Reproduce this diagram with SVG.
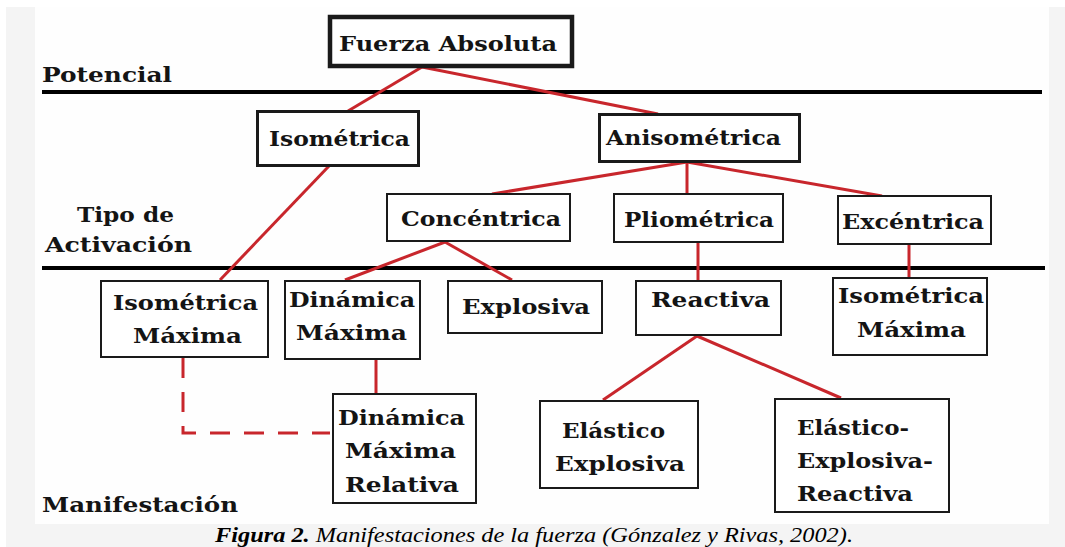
<svg xmlns="http://www.w3.org/2000/svg" width="1065" height="547" viewBox="0 0 1065 547">
<style>
.box{fill:#ffffff;stroke:#1a1a1a;stroke-width:2}
.thick{stroke-width:3}
.heavy{stroke-width:4.5}
.t{font-family:"DejaVu Serif","Liberation Serif",serif;font-weight:bold;font-size:21px;fill:#141414}
.lbl{font-family:"DejaVu Serif","Liberation Serif",serif;font-weight:bold;font-size:21px;fill:#141414}
.rl{stroke:#c8262c;stroke-width:3;fill:none;stroke-linecap:butt}
.dash{stroke-dasharray:20 14}
.sep{stroke:#000;stroke-width:4}
.cap{font-family:"Liberation Serif",serif;font-style:italic;font-size:22px;fill:#000}
</style>
<rect x="0" y="0" width="1065" height="547" fill="#ffffff"/>
<rect x="6" y="7" width="1059" height="540" fill="#f4f4f4"/>
<rect x="35" y="7" width="1014" height="517" fill="#fefefe"/>

<g id="separators">
<line class="sep" x1="42" y1="92" x2="1042" y2="92"/>
<line class="sep" x1="42" y1="268" x2="1045" y2="268"/>
</g>

<g id="levels">
<text class="lbl" x="42" y="82" textLength="130" lengthAdjust="spacingAndGlyphs">Potencial</text>
<text class="lbl" x="77" y="222" textLength="97" lengthAdjust="spacingAndGlyphs">Tipo de</text>
<text class="lbl" x="45" y="252" textLength="147" lengthAdjust="spacingAndGlyphs">Activación</text>
<text class="lbl" x="42" y="512" textLength="196" lengthAdjust="spacingAndGlyphs">Manifestación</text>
</g>

<g id="connectors">
<line class="rl" x1="422" y1="67" x2="348" y2="111"/>
<line class="rl" x1="422" y1="67" x2="658" y2="114"/>
<line class="rl" x1="687" y1="162" x2="492" y2="194"/>
<line class="rl" x1="687" y1="162" x2="687" y2="194"/>
<line class="rl" x1="687" y1="162" x2="882" y2="196"/>
<line class="rl" x1="329" y1="166" x2="220" y2="280"/>
<line class="rl" x1="445" y1="242" x2="345" y2="280"/>
<line class="rl" x1="445" y1="242" x2="512" y2="280"/>
<line class="rl" x1="698" y1="243" x2="698" y2="280"/>
<line class="rl" x1="909" y1="245" x2="909" y2="277"/>
<line class="rl" x1="376" y1="360" x2="376" y2="393"/>
<line class="rl" x1="697" y1="336" x2="603" y2="400"/>
<line class="rl" x1="697" y1="336" x2="841" y2="398"/>
<polyline class="rl dash" points="183,358 183,433 330,433"/>
</g>

<g id="n-fuerza-absoluta">
<rect class="box heavy" x="330" y="17" width="242" height="49"/>
<text class="t" x="339" y="51" textLength="218" lengthAdjust="spacingAndGlyphs" font-size="22">Fuerza Absoluta</text>
</g>
<g id="n-isometrica">
<rect class="box thick" x="257.5" y="111.5" width="161" height="54"/>
<text class="t" x="269" y="146" textLength="141" lengthAdjust="spacingAndGlyphs">Isométrica</text>
</g>
<g id="n-anisometrica">
<rect class="box thick" x="599.5" y="114.5" width="200" height="47"/>
<text class="t" x="606" y="145" textLength="175" lengthAdjust="spacingAndGlyphs">Anisométrica</text>
</g>
<g id="n-concentrica">
<rect class="box" x="387" y="194" width="183" height="47"/>
<text class="t" x="401" y="226" textLength="160" lengthAdjust="spacingAndGlyphs">Concéntrica</text>
</g>
<g id="n-pliometrica">
<rect class="box" x="614" y="194" width="169" height="48"/>
<text class="t" x="624" y="227" textLength="150" lengthAdjust="spacingAndGlyphs">Pliométrica</text>
</g>
<g id="n-excentrica">
<rect class="box" x="838" y="196" width="153" height="48"/>
<text class="t" x="842" y="229" textLength="142" lengthAdjust="spacingAndGlyphs">Excéntrica</text>
</g>
<g id="n-isometrica-maxima-1">
<rect class="box" x="101" y="281" width="167" height="76"/>
<text class="t" x="113" y="310" textLength="145" lengthAdjust="spacingAndGlyphs">Isométrica</text>
<text class="t" x="133" y="343" textLength="109" lengthAdjust="spacingAndGlyphs">Máxima</text>
</g>
<g id="n-dinamica-maxima">
<rect class="box" x="285" y="281" width="135" height="78"/>
<text class="t" x="289" y="307" textLength="126" lengthAdjust="spacingAndGlyphs">Dinámica</text>
<text class="t" x="296" y="340" textLength="111" lengthAdjust="spacingAndGlyphs">Máxima</text>
</g>
<g id="n-explosiva">
<rect class="box" x="448" y="281" width="154" height="52"/>
<text class="t" x="462" y="314" textLength="128" lengthAdjust="spacingAndGlyphs">Explosiva</text>
</g>
<g id="n-reactiva">
<rect class="box" x="636" y="281" width="145" height="54"/>
<text class="t" x="651" y="307" textLength="119" lengthAdjust="spacingAndGlyphs">Reactiva</text>
</g>
<g id="n-isometrica-maxima-2">
<rect class="box" x="833" y="278" width="154" height="77"/>
<text class="t" x="838" y="303" textLength="146" lengthAdjust="spacingAndGlyphs">Isométrica</text>
<text class="t" x="857" y="337" textLength="109" lengthAdjust="spacingAndGlyphs">Máxima</text>
</g>
<g id="n-dinamica-maxima-relativa">
<rect class="box" x="333" y="394" width="143" height="109"/>
<text class="t" x="338" y="425" textLength="127" lengthAdjust="spacingAndGlyphs">Dinámica</text>
<text class="t" x="345" y="458" textLength="111" lengthAdjust="spacingAndGlyphs">Máxima</text>
<text class="t" x="345" y="492" textLength="114" lengthAdjust="spacingAndGlyphs">Relativa</text>
</g>
<g id="n-elastico-explosiva">
<rect class="box" x="540" y="401" width="158" height="87"/>
<text class="t" x="562" y="438" textLength="103" lengthAdjust="spacingAndGlyphs">Elástico</text>
<text class="t" x="555" y="471" textLength="130" lengthAdjust="spacingAndGlyphs">Explosiva</text>
</g>
<g id="n-elastico-explosiva-reactiva">
<rect class="box" x="775" y="399" width="174" height="113"/>
<text class="t" x="797" y="435" textLength="112" lengthAdjust="spacingAndGlyphs">Elástico-</text>
<text class="t" x="797" y="468" textLength="136" lengthAdjust="spacingAndGlyphs">Explosiva-</text>
<text class="t" x="797" y="501" textLength="116" lengthAdjust="spacingAndGlyphs">Reactiva</text>
</g>

<text class="cap" x="215" y="542" textLength="638" lengthAdjust="spacingAndGlyphs"><tspan font-weight="bold">Figura 2.</tspan> Manifestaciones de la fuerza (Gónzalez y Rivas, 2002).</text>
</svg>
